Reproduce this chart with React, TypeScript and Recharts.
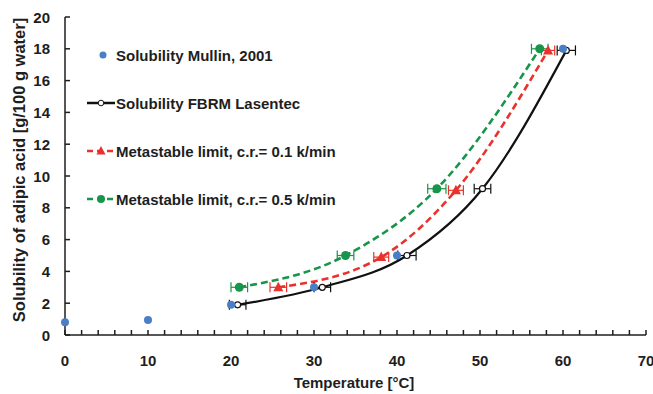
import React from "react";
import {
  ComposedChart,
  Line,
  Scatter,
  ErrorBar,
  XAxis,
  YAxis,
  Legend,
} from "recharts";

// Solubility Mullin, 2001
const mullinT = [0, 10, 20, 30, 40, 60];
const mullinS = [0.8, 0.95, 1.9, 3.0, 5.0, 18.0];

// Solubility FBRM Lasentec
const fbrmT = [20.8, 31.0, 41.2, 50.3, 60.4];
const fbrmS = [1.9, 3.0, 5.0, 9.2, 17.9];
const fbrmErr = [1.0, 1.0, 1.1, 1.0, 1.1];

// Metastable limit, c.r. = 0.1 k/min
const cr01T = [25.7, 38.1, 47.1, 58.2];
const cr01S = [3.0, 4.9, 9.1, 17.9];
const cr01Err = [1.0, 0.9, 0.9, 0.8];

// Metastable limit, c.r. = 0.5 k/min
const cr05T = [21.0, 33.8, 44.8, 57.2];
const cr05S = [3.0, 5.0, 9.2, 18.0];
const cr05Err = [1.0, 1.0, 1.1, 1.0];

const xTicks = [0, 2, 4, 6, 8, 10, 12, 14, 16, 18, 20, 22, 24, 26, 28, 30, 32, 34, 36, 38, 40, 42, 44, 46, 48, 50, 52, 54, 56, 58, 60, 62, 64, 66, 68, 70];
const yTicks = [0, 2, 4, 6, 8, 10, 12, 14, 16, 18, 20];

const FONT = '"Liberation Sans", Arial, sans-serif';
const INK = "#1e1e1e";
const BLUE = "#4a7ec6";
const RED = "#e8322b";
const GREEN = "#17954a";
const BLACK = "#111111";

const toRows = (t: number[], s: number[], e?: number[]) =>
  t.map((x, i) => ({ x, y: s[i], err: e ? e[i] : 0 }));

const mullinData = toRows(mullinT, mullinS);
const fbrmData = toRows(fbrmT, fbrmS, fbrmErr);
const cr01Data = toRows(cr01T, cr01S, cr01Err);
const cr05Data = toRows(cr05T, cr05S, cr05Err);

const XTick = ({ x, y, payload }: any) => {
  const v = payload.value;
  return (
    <g>
      <line x1={x} y1={y} x2={x} y2={y - 5} stroke={INK} strokeWidth={1.5} />
      {v % 10 === 0 && (
        <text x={x} y={y + 31} textAnchor="middle" fontFamily={FONT} fontWeight="bold" fontSize={15} fill={INK}>
          {v}
        </text>
      )}
    </g>
  );
};

const YTick = ({ x, y, payload }: any) => (
  <g>
    <line x1={x} y1={y} x2={x + 5} y2={y} stroke={INK} strokeWidth={1.5} />
    <text x={x - 15} y={y + 5.5} textAnchor="end" fontFamily={FONT} fontWeight="bold" fontSize={15} fill={INK}>
      {payload.value}
    </text>
  </g>
);

const dotBlue = (p: any) => <circle cx={p.cx} cy={p.cy} r={4} fill={BLUE} />;
const dotOpen = (p: any) => (
  <circle cx={p.cx} cy={p.cy} r={3} fill="#fff" stroke={BLACK} strokeWidth={1.2} />
);
const dotGreen = (p: any) => <circle cx={p.cx} cy={p.cy} r={4.5} fill={GREEN} />;
const triRed = (p: any) => (
  <polygon
    points={`${p.cx},${p.cy - 5.5} ${p.cx - 5},${p.cy + 4} ${p.cx + 5},${p.cy + 4}`}
    fill={RED}
  />
);

const legendItems = [
  { name: "Solubility Mullin, 2001", kind: "dot" },
  { name: "Solubility FBRM Lasentec", kind: "open" },
  { name: "Metastable limit, c.r.= 0.1 k/min", kind: "tri" },
  { name: "Metastable limit, c.r.= 0.5 k/min", kind: "green" },
];

const renderLegend = () => (
  <svg width={290} height={180} style={{ display: "block" }}>
    {legendItems.map((it, i) => {
      const cy = 17 + i * 48;
      return (
        <g key={it.name}>
          {it.kind === "dot" && <circle cx={23} cy={cy} r={3.5} fill={BLUE} />}
          {it.kind === "open" && (
            <g>
              <line x1={7} y1={cy} x2={35} y2={cy} stroke={BLACK} strokeWidth={2.5} />
              <circle cx={21} cy={cy} r={2.8} fill="#fff" stroke={BLACK} strokeWidth={1} />
            </g>
          )}
          {it.kind === "tri" && (
            <g>
              <line x1={7} y1={cy} x2={35} y2={cy} stroke={RED} strokeWidth={2.5} strokeDasharray="6 4" />
              <polygon points={`21,${cy - 5} 16.5,${cy + 3.5} 25.5,${cy + 3.5}`} fill={RED} />
            </g>
          )}
          {it.kind === "green" && (
            <g>
              <line x1={7} y1={cy} x2={35} y2={cy} stroke={GREEN} strokeWidth={2.5} strokeDasharray="6 4" />
              <circle cx={21} cy={cy} r={4} fill={GREEN} />
            </g>
          )}
          <text x={36} y={cy + 5.5} fontFamily={FONT} fontWeight="bold" fontSize={15} fill={INK}>
            {it.name}
          </text>
        </g>
      );
    })}
  </svg>
);

const renderXLabel = () => (
  <text x={354} y={388} textAnchor="middle" fontFamily={FONT} fontWeight="bold" fontSize={15} fill={INK}>
    Temperature [°C]
  </text>
);

const renderYLabel = () => (
  <text
    x={25}
    y={170}
    transform="rotate(-90 25 170)"
    textAnchor="middle"
    fontFamily={FONT}
    fontWeight="bold"
    fontSize={16.5}
    fill={INK}
  >
    Solubility of adipic acid [g/100 g water]
  </text>
);

export default function App() {
  return (
    <div style={{ position: "absolute", left: 0, top: 0, background: "#fff" }}>
      <ComposedChart
        width={653}
        height={394}
        margin={{ top: 17, right: 7, bottom: 0, left: 0 }}
      >
        <XAxis
          type="number"
          dataKey="x"
          domain={[0, 70]}
          ticks={xTicks}
          interval={0}
          height={59}
          tickSize={0}
          tickMargin={0}
          tickLine={false}
          axisLine={{ stroke: INK, strokeWidth: 1.5 }}
          tick={<XTick />}
          label={{ content: renderXLabel }}
        />
        <YAxis
          type="number"
          dataKey="y"
          domain={[0, 20]}
          ticks={yTicks}
          interval={0}
          width={65}
          tickSize={0}
          tickMargin={0}
          tickLine={false}
          axisLine={{ stroke: INK, strokeWidth: 1.5 }}
          tick={<YTick />}
          label={{ content: renderYLabel }}
        />
        <Legend
          content={renderLegend}
          layout="vertical"
          align="center"
          verticalAlign="middle"
          wrapperStyle={{ left: 80, top: 38, width: 290, height: 180 }}
        />
        <Line
          data={fbrmData}
          dataKey="y"
          type="monotone"
          stroke={BLACK}
          strokeWidth={2.2}
          dot={false}
          activeDot={false}
          isAnimationActive={false}
        />
        <Line
          data={cr01Data}
          dataKey="y"
          type="monotone"
          stroke={RED}
          strokeWidth={2.6}
          strokeDasharray="7 4"
          dot={false}
          activeDot={false}
          isAnimationActive={false}
        />
        <Line
          data={cr05Data}
          dataKey="y"
          type="monotone"
          stroke={GREEN}
          strokeWidth={2.6}
          strokeDasharray="7 4"
          dot={false}
          activeDot={false}
          isAnimationActive={false}
        />
        <Scatter data={cr01Data} dataKey="y" shape={triRed} isAnimationActive={false}>
          <ErrorBar dataKey="err" direction="x" width={5} stroke={RED} strokeWidth={1.2} />
        </Scatter>
        <Scatter data={cr05Data} dataKey="y" shape={dotGreen} isAnimationActive={false}>
          <ErrorBar dataKey="err" direction="x" width={5} stroke={GREEN} strokeWidth={1.2} />
        </Scatter>
        <Scatter data={fbrmData} dataKey="y" shape={dotOpen} isAnimationActive={false}>
          <ErrorBar dataKey="err" direction="x" width={5} stroke={BLACK} strokeWidth={1.2} />
        </Scatter>
        <Scatter data={mullinData} dataKey="y" shape={dotBlue} isAnimationActive={false} />
      </ComposedChart>
    </div>
  );
}
